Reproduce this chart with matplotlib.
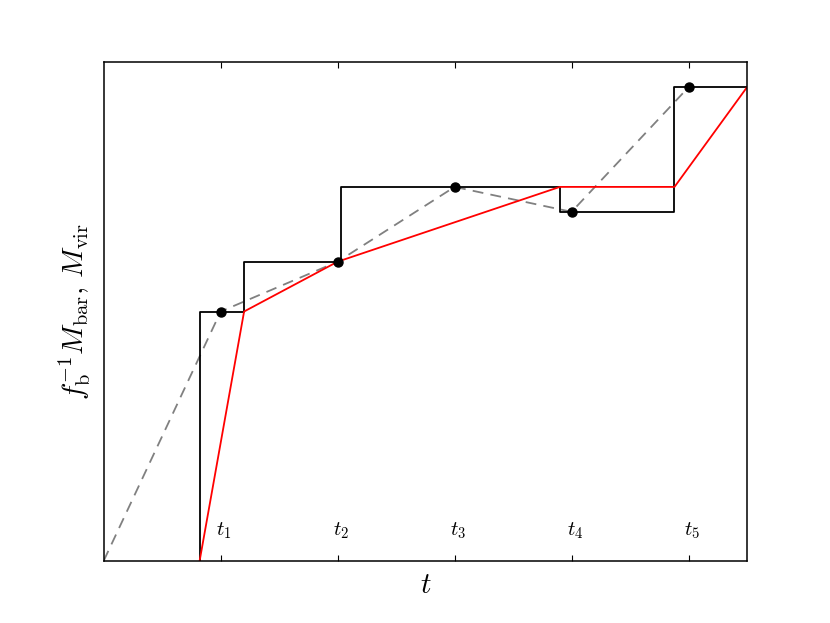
import numpy as np
import matplotlib
matplotlib.use("Agg")
import matplotlib.pyplot as plt

plt.rcParams['mathtext.fontset'] = 'cm'

# halo mass at the snapshot times
t_snap = [1, 2, 3, 4, 5]
m_vir = [0.5, 0.6, 0.75, 0.7, 0.95]

# dashed interpolation (starts at origin)
t_dash = [0] + t_snap
m_dash = [0.0] + m_vir

# step function of the baryonic mass
t_step = [0.82, 0.82, 1.2, 1.2, 2.03, 2.03, 3.9, 3.9, 4.88, 4.88, 5.5]
m_step = [0.0, 0.5, 0.5, 0.6, 0.6, 0.75, 0.75, 0.7, 0.7, 0.95, 0.95]

# red curve
t_red = [0.82, 1.2, 2.0, 3.9, 4.88, 5.5]
m_red = [0.0, 0.5, 0.6, 0.75, 0.75, 0.95]

t_labels = [r'$t_1$', r'$t_2$', r'$t_3$', r'$t_4$', r'$t_5$']

fig = plt.figure(figsize=(8.3, 6.23), dpi=100)
fig.subplots_adjust(left=0.125, right=0.9, bottom=0.1, top=0.9)
ax = fig.add_subplot(111)

ax.plot(t_dash, m_dash, '--', color='gray', lw=1.3, dashes=(6, 4))
ax.plot(t_step, m_step, '-', color='k', lw=1.3)
ax.plot(t_red, m_red, '-', color='r', lw=1.3)
ax.plot(t_snap, m_vir, 'o', color='k', ms=6.5)

ax.set_xlim(0, 5.5)
ax.set_ylim(0, 1)

ax.set_xticks(t_snap)
ax.set_xticklabels([])
ax.set_yticks([])
ax.tick_params(axis='x', direction='in', top=True, length=4, width=0.8)
for s in ax.spines.values():
    s.set_linewidth(1.1)

for t, lab in zip(t_snap, t_labels):
    ax.text(t + 0.03, 0.06, lab, ha='center', va='center', fontsize=15)

ax.set_xlabel(r'$t$', fontsize=21)
ax.set_ylabel(r'$f_{\rm b}^{-1}M_{\rm bar},\,M_{\rm vir}$', fontsize=21, labelpad=8)

fig.savefig('out.png', dpi=100)
